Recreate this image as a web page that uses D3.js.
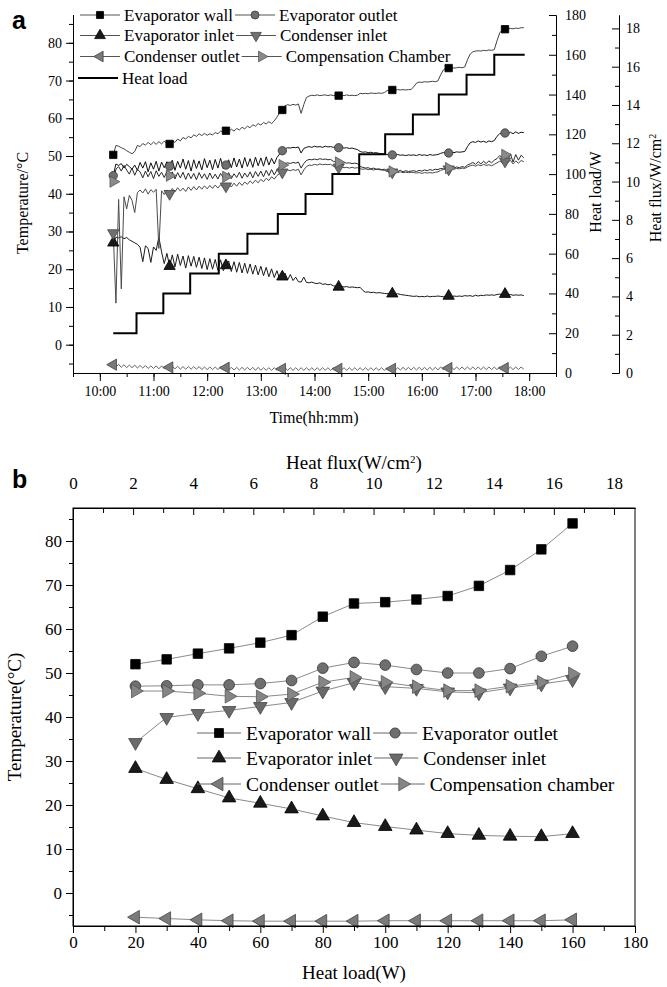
<!DOCTYPE html>
<html>
<head>
<meta charset="utf-8">
<script src="https://cdn.jsdelivr.net/npm/d3@7"></script>
<style>
body { margin: 0; background: #fff; }
svg { font-family: "Liberation Serif", "Times New Roman", serif; }
.axis path, .axis line { stroke: #000; stroke-width: 1; }
.axis text { font-family: "Liberation Serif", serif; fill: #000; }
</style>
</head>
<body>
<svg id="chart" width="667" height="987"></svg>
<script>
// ---------- panel a: one reading every 3 minutes, starting 10:15 ----------
var startTime = "10:15";
var stepMinutes = 3;

var evapWall = [
  50.3, 52.8, 52.6, 52.2, 51.9, 51.4, 51.0, 50.6, 51.2, 52.8,
  52.5, 53.3, 52.9, 53.6, 53.0, 53.7, 53.1, 53.8, 53.2, 53.9,
  53.3, 53.2, 54.0, 53.6, 54.5, 54.0, 54.9, 54.5, 55.2, 54.8,
  55.6, 55.2, 55.9, 55.4, 56.0, 55.5, 55.9, 55.6, 56.2, 55.9,
  56.6, 56.4, 56.7, 56.5, 57.1, 56.6, 57.3, 56.9, 57.6, 57.2,
  57.9, 57.5, 58.3, 57.9, 58.6, 58.2, 58.9, 58.5, 59.1, 58.6,
  59.3, 60.3, 61.5, 62.2, 63.3, 63.6, 63.4, 63.7, 63.5, 63.8,
  61.3, 63.6, 65.5, 65.9, 66.1, 66.0, 66.2, 66.0, 66.1, 66.2,
  66.0, 66.2, 66.0, 66.1, 66.0, 66.1, 66.0, 66.2, 66.0, 66.1,
  66.0, 66.1, 66.6, 66.5, 66.6, 66.5, 66.7, 66.6, 66.6, 66.7,
  66.6, 66.8, 67.3, 67.5, 67.5, 67.4, 67.6, 67.5, 67.6, 67.5,
  67.6, 67.6, 68.4, 69.3, 69.6, 69.5, 69.7, 69.6, 69.7, 69.8,
  69.7, 69.9, 71.5, 72.8, 73.2, 73.3, 73.4, 73.3, 73.4, 73.5,
  73.4, 73.6, 75.5, 77.0, 77.6, 77.8, 77.9, 77.8, 78.0, 77.9,
  78.1, 78.0, 78.2, 80.5, 82.6, 83.4, 83.6, 83.7, 83.8, 83.7,
  83.9, 83.8, 84.0, 84.0
];
var evapOutlet = [
  44.8, 47.9, 47.5, 48.0, 46.8, 47.8, 47.2, 46.5, 47.6, 46.2,
  48.3, 46.8, 48.5, 45.8, 48.2, 46.5, 48.6, 46.0, 48.4, 46.9,
  48.5, 47.3, 48.9, 46.2, 48.6, 46.8, 49.2, 46.5, 48.8, 46.0,
  49.0, 46.7, 48.7, 46.3, 49.3, 46.9, 48.9, 46.4, 49.1, 46.8,
  49.4, 46.6, 47.6, 49.0, 46.9, 49.5, 47.1, 49.2, 46.8, 49.6,
  47.2, 49.3, 47.0, 49.7, 47.4, 49.5, 47.3, 49.8, 47.6, 49.4,
  47.9, 49.6, 50.5, 51.4, 51.9, 52.2, 52.1, 52.3, 52.2, 52.4,
  50.8, 52.0, 52.3, 52.5, 52.3, 52.6, 52.4, 52.5, 52.3, 52.6,
  52.4, 52.5, 52.3, 52.4, 52.2, 52.3, 52.1, 52.2, 52.0, 52.1,
  51.9, 51.7, 51.2, 51.0, 51.1, 50.9, 51.0, 50.8, 50.9, 50.7,
  50.6, 50.5, 50.4, 50.3, 50.3, 50.2, 50.4, 50.2, 50.3, 50.1,
  50.3, 50.2, 50.3, 50.1, 50.4, 50.2, 50.3, 50.1, 50.4, 50.2,
  50.3, 50.4, 50.7, 50.9, 51.0, 50.8, 51.0, 50.9, 51.1, 51.0,
  51.1, 51.2, 52.5, 53.5, 53.8, 53.6, 54.0, 53.7, 53.9, 53.6,
  54.0, 53.8, 54.1, 55.2, 55.9, 56.0, 56.1, 55.8, 56.3, 55.9,
  56.4, 56.0, 56.3, 56.2
];
var evapInlet = [
  27.0, 28.5, 28.3, 28.6, 28.1, 28.4, 27.8, 27.4, 27.0, 26.6,
  25.8, 22.0, 26.2, 25.5, 21.8, 25.9, 25.0, 28.5, 24.6, 21.5,
  24.2, 20.8, 23.8, 20.6, 24.0, 21.0, 23.5, 20.3, 23.6, 20.8,
  23.4, 20.5, 23.2, 20.2, 23.0, 19.9, 22.8, 20.0, 22.6, 19.7,
  22.5, 19.6, 21.0, 22.2, 19.4, 22.0, 19.2, 21.8, 19.0, 21.6,
  18.9, 21.4, 18.7, 21.1, 18.5, 20.8, 18.3, 20.5, 18.0, 20.1,
  17.8, 19.6, 17.5, 18.0, 19.0, 17.2, 18.6, 17.0, 17.9, 16.7,
  16.6, 17.9, 16.5, 16.4, 16.6, 16.3, 16.2, 16.4, 16.0, 16.1,
  15.9, 16.0, 15.6, 15.5, 15.3, 15.4, 15.3, 15.4, 15.2, 15.3,
  15.2, 15.1, 15.2, 14.4, 13.9, 14.0, 13.8, 13.9, 13.7, 13.8,
  13.7, 13.6, 13.5, 13.6, 13.5, 13.4, 13.5, 13.3, 13.2, 13.1,
  13.0, 12.9, 12.8, 12.9, 12.7, 12.8, 12.7, 12.9, 12.7, 12.8,
  12.8, 12.9, 12.8, 12.7, 12.9, 12.9, 12.7, 12.9, 12.8, 12.9,
  12.8, 13.0, 12.9, 13.0, 12.8, 13.1, 12.9, 13.1, 13.0, 13.2,
  13.1, 13.2, 13.1, 13.3, 13.4, 13.3, 13.4, 13.2, 13.3, 13.1,
  13.2, 13.1, 13.2, 13.0
];
var condInlet = [
  29.6, 11.0, 38.5, 14.8, 39.2, 36.0, 39.6, 38.2, 35.0, 40.3,
  41.0, 40.2, 41.3, 39.9, 41.1, 40.4, 41.2, 25.5, 40.8, 39.8,
  41.0, 40.0, 41.4, 40.5, 41.6, 40.7, 41.5, 40.6, 41.8, 40.9,
  41.9, 41.0, 42.0, 41.2, 42.1, 41.3, 42.2, 41.4, 42.3, 41.5,
  42.4, 41.6, 42.0, 42.6, 41.8, 42.8, 42.0, 43.0, 42.2, 43.1,
  42.5, 43.4, 42.7, 43.6, 42.9, 43.8, 43.2, 44.1, 43.5, 44.5,
  43.9, 44.8, 45.4, 45.7, 46.0, 46.3, 46.1, 46.4, 46.2, 46.5,
  45.0, 46.3, 47.2, 47.6, 47.5, 47.8, 47.6, 47.9, 47.7, 47.8,
  47.7, 47.8, 47.3, 47.1, 47.0, 47.1, 46.9, 47.0, 46.8, 47.0,
  46.8, 46.9, 46.6, 46.5, 46.6, 46.4, 46.5, 46.3, 46.5, 46.4,
  46.3, 46.2, 45.9, 45.8, 45.7, 45.8, 45.6, 45.8, 45.6, 45.7,
  45.6, 45.7, 45.6, 45.5, 45.6, 45.4, 45.6, 45.5, 45.6, 45.5,
  45.7, 45.8, 46.2, 46.4, 46.6, 46.5, 46.7, 46.5, 46.7, 46.6,
  46.8, 46.7, 47.1, 47.4, 47.6, 47.3, 47.7, 47.4, 47.8, 47.5,
  47.7, 47.4, 47.8, 48.2, 48.6, 48.3, 48.6, 48.2, 48.9, 47.9,
  48.7, 48.1, 48.8, 48.5
];
var condOutlet = [
  -5.3, -5.9, -5.2, -6.0, -5.3, -6.1, -5.4, -6.1, -5.4, -6.2,
  -5.5, -6.2, -5.5, -6.3, -5.6, -6.3, -5.6, -6.4, -5.6, -6.4,
  -5.7, -6.0, -5.7, -6.4, -5.7, -6.5, -5.8, -6.5, -5.8, -6.5,
  -5.8, -6.5, -5.8, -6.6, -5.9, -6.6, -5.9, -6.6, -5.9, -6.6,
  -5.9, -6.6, -6.1, -6.7, -6.0, -6.7, -6.0, -6.7, -6.0, -6.7,
  -6.0, -6.7, -6.0, -6.8, -6.0, -6.8, -6.1, -6.8, -6.1, -6.8,
  -6.1, -6.8, -6.1, -6.4, -6.1, -6.8, -6.1, -6.8, -6.1, -6.8,
  -6.1, -6.8, -6.1, -6.8, -6.1, -6.8, -6.1, -6.8, -6.1, -6.8,
  -6.1, -6.8, -6.1, -6.8, -6.4, -6.8, -6.1, -6.8, -6.1, -6.8,
  -6.1, -6.8, -6.1, -6.8, -6.1, -6.8, -6.1, -6.8, -6.1, -6.8,
  -6.1, -6.8, -6.1, -6.8, -6.4, -6.8, -6.1, -6.7, -6.0, -6.7,
  -6.0, -6.7, -6.0, -6.7, -6.0, -6.7, -6.0, -6.7, -6.0, -6.7,
  -6.0, -6.7, -5.9, -6.6, -5.9, -6.2, -5.9, -6.6, -5.9, -6.6,
  -5.9, -6.6, -5.9, -6.6, -5.9, -6.6, -5.9, -6.6, -5.9, -6.6,
  -5.9, -6.6, -5.9, -6.6, -5.9, -6.6, -6.2, -6.6, -5.9, -6.6,
  -5.9, -6.6, -5.9, -6.5
];
var compChamber = [
  43.2, 46.5, 47.2, 46.0, 47.5, 46.3, 45.2, 46.8, 44.9, 46.5,
  45.8, 44.2, 46.0, 44.5, 45.9, 44.0, 46.1, 44.6, 45.7, 44.3,
  45.9, 44.8, 45.8, 43.9, 45.6, 44.2, 45.7, 43.8, 45.5, 44.0,
  45.4, 43.7, 45.6, 44.1, 45.3, 43.8, 45.5, 44.0, 45.2, 43.9,
  45.4, 44.2, 44.5, 45.6, 44.0, 45.3, 44.3, 45.7, 44.1, 45.5,
  44.4, 45.8, 44.2, 45.9, 44.6, 46.0, 44.5, 46.2, 44.8, 46.4,
  45.0, 46.3, 47.2, 47.6, 48.0, 48.2, 48.0, 48.3, 48.1, 48.4,
  46.8, 48.0, 48.8, 49.1, 49.0, 49.2, 49.0, 49.3, 49.1, 49.2,
  49.0, 49.1, 48.6, 48.4, 48.3, 48.2, 48.3, 48.1, 48.2, 48.0,
  48.1, 48.0, 47.2, 47.0, 46.8, 46.9, 46.6, 46.8, 46.5, 46.6,
  46.4, 46.5, 46.2, 46.0, 45.9, 46.1, 45.9, 46.2, 45.8, 46.1,
  45.9, 46.0, 46.1, 45.9, 46.2, 46.0, 46.3, 46.1, 46.4, 46.2,
  46.5, 46.4, 46.7, 46.6, 46.9, 46.8, 47.0, 46.8, 47.1, 46.9,
  47.2, 47.0, 47.6, 47.9, 48.3, 47.8, 48.5, 47.9, 48.6, 48.0,
  48.7, 48.2, 48.9, 49.3, 50.1, 49.6, 50.3, 48.8, 50.6, 48.4,
  50.4, 48.9, 50.2, 49.5
];
// readings that carry a marker symbol
var markerIdx = [0, 21, 42, 63, 84, 104, 125, 146];

// heat load steps (W), value held from each time until the next
var loadTimes = ["10:15", "10:41", "11:11", "11:41", "12:13", "12:45", "13:19", "13:50",
                 "14:20", "14:50", "15:19", "15:50", "16:19", "16:50", "17:21", "17:55"];
var loadValues = [20, 30, 40, 50, 60, 70, 80, 90, 100, 110, 120, 130, 140, 150, 160, 160];

// ---------- panel b: steady values per heat load ----------
var heatLoads = [20, 30, 40, 50, 60, 70, 80, 90, 100, 110, 120, 130, 140, 150, 160];
var bEvapWall = [52.0, 53.1, 54.4, 55.6, 56.9, 58.6, 62.8, 65.8, 66.1, 66.7, 67.5, 69.8, 73.4, 78.1, 84.0];
var bEvapOutlet = [47.0, 47.1, 47.3, 47.3, 47.6, 48.3, 51.1, 52.4, 51.8, 50.8, 50.0, 50.0, 51.0, 53.8, 56.1];
var bEvapInlet = [28.3, 25.8, 23.7, 21.6, 20.4, 19.1, 17.5, 16.0, 15.1, 14.3, 13.5, 13.1, 12.9, 12.8, 13.5];
var bCondInlet = [34.2, 39.9, 40.8, 41.5, 42.4, 43.3, 45.9, 47.8, 46.9, 46.5, 45.7, 45.5, 46.6, 47.5, 48.5];
var bCondOutlet = [-5.5, -5.8, -6.1, -6.3, -6.4, -6.4, -6.4, -6.4, -6.3, -6.3, -6.3, -6.3, -6.3, -6.3, -6.1];
var bCompChamber = [45.9, 45.9, 45.4, 44.7, 44.6, 45.2, 47.9, 49.0, 47.9, 46.9, 46.0, 46.0, 47.0, 47.9, 49.8];

var serif = "Liberation Serif, Times New Roman, serif";
var svg = d3.select("#chart");
svg.append("rect").attr("width", 667).attr("height", 987).attr("fill", "#fff");

function drawMarker(g, s, x, y, size) {
  g.append("path")
    .attr("d", d3.symbol().type(s.sym).size(size)())
    .attr("transform", "translate(" + x + "," + y + ") rotate(" + s.rot + ")")
    .attr("fill", s.fill)
    .attr("stroke", s.stroke)
    .attr("stroke-width", 0.8);
}

// lays entries out one after another, like Origin does
function legendRow(g, items, x0, y, opt) {
  var x = x0;
  items.forEach(function(s) {
    g.append("line")
      .attr("x1", x).attr("x2", x + opt.len)
      .attr("y1", y).attr("y2", y)
      .attr("stroke", s.sym ? opt.lineColor : "#000")
      .attr("stroke-width", s.sym ? 1 : 2);
    if (s.sym) drawMarker(g, s, x + opt.len / 2, y, opt.size);
    var txt = g.append("text")
      .attr("x", x + opt.len + opt.gap)
      .attr("y", y)
      .attr("dy", "0.35em")
      .attr("font-size", opt.font)
      .text(s.name);
    x = x + opt.len + opt.gap + txt.node().getComputedTextLength() + opt.after;
  });
}

function styleAxis(sel, size) {
  sel.attr("font-family", serif);
  sel.selectAll("text").attr("font-size", size);
}

// ================= panel a =================
var parseTime = d3.timeParse("%H:%M");
var t0 = parseTime(startTime);

var xA = d3.scaleTime().domain([parseTime("09:30"), parseTime("18:30")]).range([73, 556]);
var yA = d3.scaleLinear().domain([-7.5, 87.5]).range([373, 14.5]);
var yLoad = d3.scaleLinear().domain([0, 180]).range([373, 15]);
var yFluxA = d3.scaleLinear().domain([0, 18.7]).range([373, 15]);

var seriesA = [
  { name: "Evaporator wall", vals: evapWall, sym: d3.symbolSquare, rot: 0, fill: "#000", stroke: "#000", line: "#444" },
  { name: "Evaporator outlet", vals: evapOutlet, sym: d3.symbolCircle, rot: 0, fill: "#6f6f6f", stroke: "#333", line: "#111" },
  { name: "Evaporator inlet", vals: evapInlet, sym: d3.symbolTriangle, rot: 0, fill: "#1a1a1a", stroke: "#000", line: "#1a1a1a" },
  { name: "Condenser inlet", vals: condInlet, sym: d3.symbolTriangle, rot: 180, fill: "#707070", stroke: "#444", line: "#4a4a4a" },
  { name: "Condenser outlet", vals: condOutlet, sym: d3.symbolTriangle, rot: -90, fill: "#7a7a7a", stroke: "#444", line: "#666" },
  { name: "Compensation Chamber", vals: compChamber, sym: d3.symbolTriangle, rot: 90, fill: "#8a8a8a", stroke: "#555", line: "#2a2a2a" }
];

var gA = svg.append("g");

var lineA = d3.line()
  .x(function(d, i) { return xA(d3.timeMinute.offset(t0, i * stepMinutes)); })
  .y(function(d) { return yA(d); });

seriesA.forEach(function(s) {
  gA.append("path")
    .attr("d", lineA(s.vals))
    .attr("fill", "none")
    .attr("stroke", s.line)
    .attr("stroke-width", 1);
});

seriesA.forEach(function(s) {
  markerIdx.forEach(function(i) {
    drawMarker(gA, s, xA(d3.timeMinute.offset(t0, i * stepMinutes)), yA(s.vals[i]), 55);
  });
});

var loadLine = d3.line()
  .curve(d3.curveStepAfter)
  .x(function(d, i) { return xA(parseTime(loadTimes[i])); })
  .y(function(d) { return yLoad(d); });

gA.append("path")
  .attr("d", loadLine(loadValues))
  .attr("fill", "none")
  .attr("stroke", "#000")
  .attr("stroke-width", 2);

// axes a
gA.append("g").attr("class", "axis").attr("transform", "translate(0,373)")
  .call(d3.axisBottom(xA).ticks(d3.timeMinute.every(30)).tickFormat("").tickSize(4).tickSizeOuter(0));
gA.append("g").attr("class", "axis").attr("transform", "translate(0,373)")
  .call(d3.axisBottom(xA).ticks(d3.timeHour.every(1)).tickFormat(d3.timeFormat("%H:%M"))
    .tickSize(8).tickPadding(5).tickSizeOuter(0))
  .call(styleAxis, 14);

gA.append("g").attr("class", "axis").attr("transform", "translate(73,0)")
  .call(d3.axisLeft(yA).tickValues(d3.range(-5, 86, 5)).tickFormat("").tickSize(4).tickSizeOuter(0));
gA.append("g").attr("class", "axis").attr("transform", "translate(73,0)")
  .call(d3.axisLeft(yA).tickValues(d3.range(0, 81, 10)).tickSize(7).tickPadding(4).tickSizeOuter(0))
  .call(styleAxis, 14);

function rightAxis(scale, x, minor, major, pad) {
  gA.append("g").attr("class", "axis").attr("transform", "translate(" + x + ",0)")
    .call(d3.axisLeft(scale).tickValues(minor).tickFormat("").tickSize(4).tickSizeOuter(0));
  gA.append("g").attr("class", "axis").attr("transform", "translate(" + x + ",0)")
    .call(d3.axisLeft(scale).tickValues(major).tickFormat("").tickSize(7).tickSizeOuter(0));
  var lab = gA.append("g").attr("class", "axis").attr("transform", "translate(" + x + ",0)")
    .call(d3.axisRight(scale).tickValues(major).tickSize(0).tickPadding(pad))
    .call(styleAxis, 14);
  lab.select(".domain").remove();
}
rightAxis(yLoad, 556, d3.range(10, 180, 20), d3.range(0, 181, 20), 9);
rightAxis(yFluxA, 619, d3.range(1, 18, 2), d3.range(0, 19, 2), 7);

// titles a
gA.append("text").attr("transform", "translate(28,203) rotate(-90)")
  .attr("text-anchor", "middle").attr("font-size", 16).text("Temperature/°C");
gA.append("text").attr("x", 314).attr("y", 423)
  .attr("text-anchor", "middle").attr("font-size", 16).text("Time(hh:mm)");
gA.append("text").attr("transform", "translate(601,192) rotate(-90)")
  .attr("text-anchor", "middle").attr("font-size", 16).text("Heat load/W");
var fluxTitle = gA.append("text").attr("transform", "translate(661,188) rotate(-90)")
  .attr("text-anchor", "middle").attr("font-size", 16);
fluxTitle.append("tspan").text("Heat flux/W/cm");
fluxTitle.append("tspan").attr("baseline-shift", "super").attr("font-size", 10).text("2");

svg.append("text").attr("x", 12).attr("y", 29)
  .attr("font-family", "Liberation Sans, Arial, sans-serif").attr("font-weight", "bold")
  .attr("font-size", 25).text("a");

// legend a
var legA = gA.append("g");
var optA = { len: 40, gap: 4, after: 2, font: 17, size: 50, lineColor: "#555" };
legendRow(legA, [seriesA[0], seriesA[1]], 80, 15, optA);
legendRow(legA, [seriesA[2], seriesA[3]], 80, 35.5, optA);
legendRow(legA, [seriesA[4], seriesA[5]], 80, 56.5, optA);
legendRow(legA, [{ name: "Heat load" }], 78, 78, optA);

// ================= panel b =================
var xB = d3.scaleLinear().domain([0, 180]).range([73, 635]);
var xFluxB = d3.scaleLinear().domain([0, 18.7]).range([73, 635]);
var yB = d3.scaleLinear().domain([-7.5, 87.5]).range([926, 508]);

var seriesB = [
  { name: "Evaporator wall", vals: bEvapWall, sym: d3.symbolSquare, rot: 0, fill: "#000", stroke: "#000" },
  { name: "Evaporator outlet", vals: bEvapOutlet, sym: d3.symbolCircle, rot: 0, fill: "#6f6f6f", stroke: "#333" },
  { name: "Evaporator inlet", vals: bEvapInlet, sym: d3.symbolTriangle, rot: 0, fill: "#1a1a1a", stroke: "#000" },
  { name: "Condenser inlet", vals: bCondInlet, sym: d3.symbolTriangle, rot: 180, fill: "#6a6a6a", stroke: "#444" },
  { name: "Condenser outlet", vals: bCondOutlet, sym: d3.symbolTriangle, rot: -90, fill: "#7a7a7a", stroke: "#444" },
  { name: "Compensation chamber", vals: bCompChamber, sym: d3.symbolTriangle, rot: 90, fill: "#858585", stroke: "#555" }
];

var gB = svg.append("g");

var lineB = d3.line()
  .x(function(d, i) { return xB(heatLoads[i]); })
  .y(function(d) { return yB(d); });

seriesB.forEach(function(s) {
  gB.append("path")
    .attr("d", lineB(s.vals))
    .attr("fill", "none")
    .attr("stroke", "#8a8a8a")
    .attr("stroke-width", 1);
});
seriesB.forEach(function(s) {
  s.vals.forEach(function(v, i) {
    drawMarker(gB, s, xB(heatLoads[i]), yB(v), s.sym === d3.symbolTriangle ? 80 : 90);
  });
});

// frame
gB.append("rect").attr("x", 73).attr("y", 508).attr("width", 562).attr("height", 418)
  .attr("fill", "none").attr("stroke", "#000");

gB.append("g").attr("class", "axis").attr("transform", "translate(0,926)")
  .call(d3.axisBottom(xB).tickValues(d3.range(10, 180, 20)).tickFormat("").tickSize(5).tickSizeOuter(0));
gB.append("g").attr("class", "axis").attr("transform", "translate(0,926)")
  .call(d3.axisBottom(xB).tickValues(d3.range(0, 181, 20)).tickSize(7).tickPadding(3).tickSizeOuter(0))
  .call(styleAxis, 17);

gB.append("g").attr("class", "axis").attr("transform", "translate(73,0)")
  .call(d3.axisLeft(yB).tickValues(d3.range(-5, 86, 10)).tickFormat("").tickSize(4).tickSizeOuter(0));
gB.append("g").attr("class", "axis").attr("transform", "translate(73,0)")
  .call(d3.axisLeft(yB).tickValues(d3.range(0, 81, 10)).tickSize(7).tickPadding(4).tickSizeOuter(0))
  .call(styleAxis, 17);

// top flux axis, ticks pointing into the frame
gB.append("g").attr("class", "axis").attr("transform", "translate(0,508)")
  .call(d3.axisBottom(xFluxB).tickValues(d3.range(1, 18, 2)).tickFormat("").tickSize(5).tickSizeOuter(0));
gB.append("g").attr("class", "axis").attr("transform", "translate(0,508)")
  .call(d3.axisBottom(xFluxB).tickValues(d3.range(0, 19, 2)).tickFormat("").tickSize(7).tickSizeOuter(0));
var topLab = gB.append("g").attr("class", "axis").attr("transform", "translate(0,508)")
  .call(d3.axisTop(xFluxB).tickValues(d3.range(0, 19, 2)).tickSize(0).tickPadding(19))
  .call(styleAxis, 17);
topLab.select(".domain").remove();

// titles b
gB.append("text").attr("x", 354).attr("y", 979)
  .attr("text-anchor", "middle").attr("font-size", 19).text("Heat load(W)");
var topTitle = gB.append("text").attr("x", 354).attr("y", 469)
  .attr("text-anchor", "middle").attr("font-size", 19);
topTitle.append("tspan").text("Heat flux(W/cm");
topTitle.append("tspan").attr("baseline-shift", "super").attr("font-size", 11).text("2");
topTitle.append("tspan").text(")");
gB.append("text").attr("transform", "translate(21,717) rotate(-90)")
  .attr("text-anchor", "middle").attr("font-size", 19).text("Temperature(°C)");

svg.append("text").attr("x", 12).attr("y", 488)
  .attr("font-family", "Liberation Sans, Arial, sans-serif").attr("font-weight", "bold")
  .attr("font-size", 25).text("b");

// legend b
var legB = gB.append("g");
var optB = { len: 44, gap: 5, after: 2, font: 19.5, size: 80, lineColor: "#666" };
legendRow(legB, [seriesB[0], seriesB[1]], 197, 733, optB);
legendRow(legB, [seriesB[2], seriesB[3]], 197, 758, optB);
legendRow(legB, [seriesB[4], seriesB[5]], 197, 784, optB);
</script>
</body>
</html>
